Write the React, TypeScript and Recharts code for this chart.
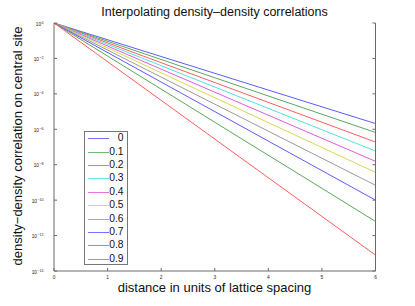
import React from 'react';
import { LineChart, Line, XAxis, YAxis, Legend } from 'recharts';

// distance (lattice spacings)
const distance = [0, 6];
// interpolation parameter labels
const seriesNames = ['0', '0.1', '0.2', '0.3', '0.4', '0.5', '0.6', '0.7', '0.8', '0.9'];
// correlation values at each distance, one array per series
const s0 = [1, 2.1e-6];
const s01 = [1, 6.6e-7];
const s02 = [1, 1.9e-7];
const s03 = [1, 5.9e-8];
const s04 = [1, 1.55e-8];
const s05 = [1, 3.7e-9];
const s06 = [1, 6.9e-10];
const s07 = [1, 1.0e-10];
const s08 = [1, 6.3e-12];
const s09 = [1, 7.9e-14];
const seriesValues = [s0, s01, s02, s03, s04, s05, s06, s07, s08, s09];

const xTicks = [0, 1, 2, 3, 4, 5, 6];
const yTicks = [1, 1e-2, 1e-4, 1e-6, 1e-8, 1e-10, 1e-12, 1e-14];
const yExponents = ['0', '\u22122', '\u22124', '\u22126', '\u22128', '\u221210', '\u221212', '\u221214'];

const colors = [
  '#5c5cff', '#5aa85a', '#ff5c5c', '#55dede', '#dd5cdd',
  '#d8d850', '#9a9a9a', '#5c5cff', '#5aa85a', '#ff5c5c',
];

const data = distance.map((d, i) => {
  const row: Record<string, number> = { x: d };
  seriesNames.forEach((n, k) => {
    row['s' + k] = seriesValues[k][i];
  });
  return row;
});

const FONT = '"Liberation Sans", Arial, Helvetica, sans-serif';
const AXIS = '#6a6a6a';

const YTick = (props: any) => {
  const idx = yTicks.findIndex((t) => Math.abs(Math.log10(t) - Math.log10(props.payload.value)) < 1e-6);
  const exp = idx >= 0 ? yExponents[idx] : '';
  return (
    <text x={43.5} y={props.y + 2.5} textAnchor="end" fontSize={4.8} fill="#222" fontFamily={FONT}>
      10
      <tspan dx={0.4} dy={-2} fontSize={3.6}>{exp}</tspan>
    </text>
  );
};

const XTick = (props: any) => (
  <text x={props.x} y={279} textAnchor="middle" fontSize={4.8} fill="#222" fontFamily={FONT}>
    {props.payload.value}
  </text>
);

const Empty = () => <g />;

const LegendBox = () => (
  <div
    style={{
      position: 'relative',
      width: 44,
      height: 134,
      border: '1px solid #777',
      boxSizing: 'border-box',
      background: '#fff',
      fontFamily: FONT,
    }}
  >
    {seriesNames.map((n, k) => (
      <div key={n} style={{ position: 'absolute', left: 0, top: 6.3 + k * 13.38 - 7, height: 14, width: 42 }}>
        <div style={{ position: 'absolute', left: 3, width: 21, top: 7, height: 1, background: colors[k], opacity: 0.85 }} />
        <div
          style={{
            position: 'absolute',
            right: 3.5,
            top: 0,
            fontSize: 10.3,
            lineHeight: '14px',
            color: '#111',
          }}
        >
          {n}
        </div>
      </div>
    ))}
  </div>
);

export default function App() {
  return (
    <div style={{ position: 'absolute', left: 0, top: 0, width: 415, height: 306, background: '#fff' }}>
      <LineChart width={415} height={306} data={data} margin={{ top: 23, right: 0, bottom: 0, left: 0 }}>
        <XAxis
          dataKey="x"
          type="number"
          domain={[0, 6]}
          ticks={xTicks}
          xAxisId="bottom"
          height={35}
          stroke={AXIS}
          tickSize={-3}
          tick={<XTick />}
        />
        <XAxis
          dataKey="x"
          type="number"
          domain={[0, 6]}
          ticks={xTicks}
          xAxisId="top"
          orientation="top"
          height={0}
          stroke={AXIS}
          tickSize={-3}
          tick={<Empty />}
        />
        <YAxis
          yAxisId="left"
          scale="log"
          domain={[1e-14, 1]}
          ticks={yTicks}
          allowDataOverflow
          width={54}
          stroke={AXIS}
          tickSize={-3}
          tick={<YTick />}
        />
        <YAxis
          yAxisId="right"
          orientation="right"
          scale="log"
          domain={[1e-14, 1]}
          ticks={yTicks}
          allowDataOverflow
          width={39.5}
          stroke={AXIS}
          tickSize={-3}
          tick={<Empty />}
        />
        {seriesNames.map((n, k) => (
          <Line
            key={n}
            name={n}
            xAxisId="bottom"
            yAxisId="left"
            dataKey={'s' + k}
            stroke={colors[k]}
            strokeWidth={1}
            dot={false}
            isAnimationActive={false}
            type="linear"
          />
        ))}
        <Legend
          layout="vertical"
          align="center"
          verticalAlign="middle"
          content={<LegendBox />}
          wrapperStyle={{ position: 'absolute', left: 84, top: 131, width: 44, height: 134 }}
        />
        <text x={214.5} y={16} textAnchor="middle" fontSize={12.5} fill="#111" fontFamily={FONT}>
          Interpolating density–density correlations
        </text>
        <text x={214.5} y={292} textAnchor="middle" fontSize={13} fill="#111" fontFamily={FONT}>
          distance in units of lattice spacing
        </text>
        <text
          x={0}
          y={0}
          transform="translate(22,146) rotate(-90)"
          textAnchor="middle"
          fontSize={13}
          fill="#111"
          fontFamily={FONT}
        >
          density−density correlation on central site
        </text>
      </LineChart>
    </div>
  );
}
